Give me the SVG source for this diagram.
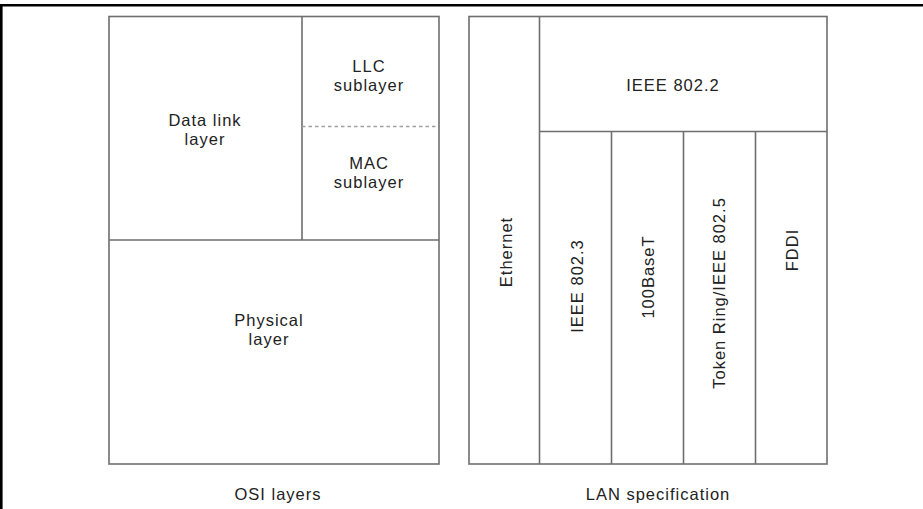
<svg xmlns="http://www.w3.org/2000/svg" width="923" height="509" viewBox="0 0 923 509">
<style>
.box{fill:none;stroke:#6e6e6e;stroke-width:1.6}
.ln{stroke:#6e6e6e;stroke-width:1.6}
.dash{stroke:#a0a0a0;stroke-width:1.6;stroke-dasharray:3.5 3}
text{font-family:"Liberation Sans",Arial,sans-serif;font-size:16.5px;fill:#222;text-anchor:middle;letter-spacing:1px}
</style>
<rect width="923" height="509" fill="#fff"/>
<g id="frame">
<line x1="0" y1="5.2" x2="923" y2="5.2" stroke="#000" stroke-width="2.6"/>
<line x1="1.3" y1="4" x2="1.3" y2="509" stroke="#000" stroke-width="2.6"/>
</g>
<g id="connectors">
<line class="ln" x1="302" y1="16.5" x2="302" y2="240"/>
<line class="ln" x1="109" y1="240" x2="439" y2="240"/>
<line class="dash" x1="302" y1="126.5" x2="439" y2="126.5"/>
<line class="ln" x1="539.5" y1="16.5" x2="539.5" y2="464"/>
<line class="ln" x1="539.5" y1="131.5" x2="827" y2="131.5"/>
<line class="ln" x1="611.5" y1="131.5" x2="611.5" y2="464"/>
<line class="ln" x1="683.5" y1="131.5" x2="683.5" y2="464"/>
<line class="ln" x1="755.5" y1="131.5" x2="755.5" y2="464"/>
</g>
<g id="osi">
<rect class="box" x="109" y="16.5" width="330" height="447.5"/>
</g>
<g id="datalink"><text x="205" y="126">Data link</text><text x="205" y="145">layer</text></g>
<g id="llc"><text x="369" y="72">LLC</text><text x="369" y="91">sublayer</text></g>
<g id="mac"><text x="369" y="169">MAC</text><text x="369" y="188">sublayer</text></g>
<g id="physical"><text x="269" y="326">Physical</text><text x="269" y="345">layer</text></g>
<g id="lan">
<rect class="box" x="469" y="16.5" width="358" height="447.5"/>
</g>
<g id="ieee8022"><text x="673" y="91">IEEE 802.2</text></g>
<g id="ethernet"><text transform="translate(512,252) rotate(-90)">Ethernet</text></g>
<g id="ieee8023"><text transform="translate(583,286) rotate(-90)">IEEE 802.3</text></g>
<g id="base100"><text transform="translate(654,277) rotate(-90)">100BaseT</text></g>
<g id="tokenring"><text transform="translate(725,293) rotate(-90)">Token Ring/IEEE 802.5</text></g>
<g id="fddi"><text transform="translate(797.5,250) rotate(-90)">FDDI</text></g>
<g id="labels">
<text x="278" y="500">OSI layers</text>
<text x="658" y="500">LAN specification</text>
</g>
</svg>
